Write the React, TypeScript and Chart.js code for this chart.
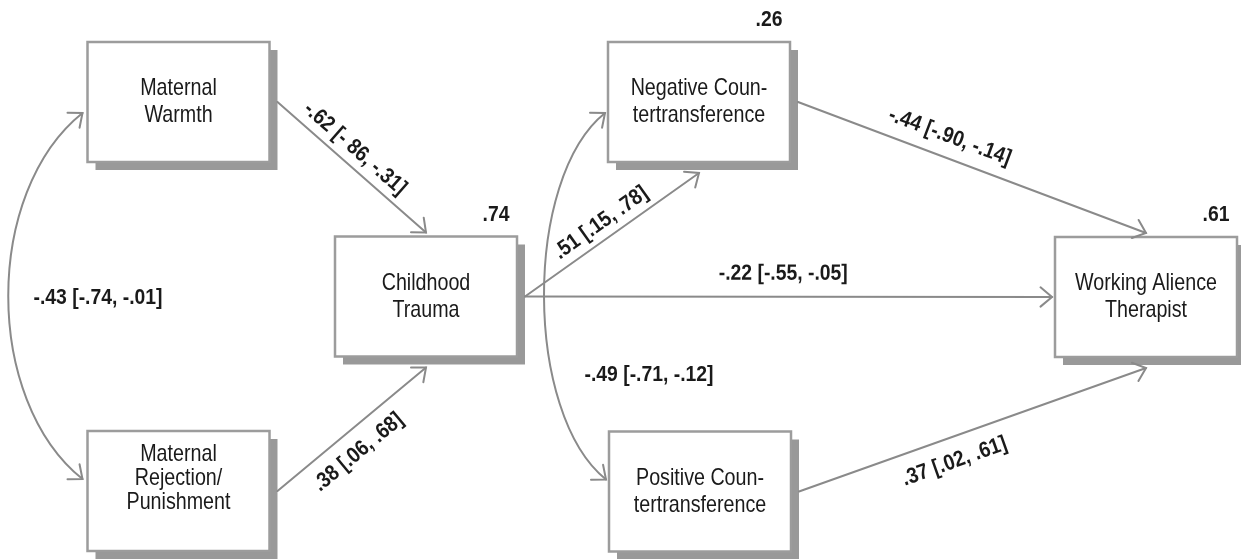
import React, { useEffect, useRef } from "react";
import { Chart, registerables } from "chart.js";

Chart.register(...registerables);

// ---------- data ----------
const nodeLines: string[][] = [
  ["Maternal", "Warmth"],
  ["Maternal", "Rejection/", "Punishment"],
  ["Childhood", "Trauma"],
  ["Negative Coun-", "tertransference"],
  ["Positive Coun-", "tertransference"],
  ["Working Alience", "Therapist"],
];
const nodeX = [178.5, 178.5, 426, 699, 700, 1146];
const nodeY = [102, 491, 296.5, 102, 491.5, 297];

const r2Node = [2, 3, 5];
const r2Values = [".74", ".26", ".61"];

const pathFrom = [0, 1, 2, 2, 3, 4];
const pathTo = [2, 2, 3, 5, 5, 5];
const pathLabels = [
  "-.62 [- 86, -.31]",
  ".38 [.06, .68]",
  ".51 [.15, .78]",
  "-.22 [-.55, -.05]",
  "-.44 [-.90, -.14]",
  ".37 [.02, .61]",
];

const covFrom = [0, 3];
const covTo = [1, 4];
const covLabels = ["-.43 [-.74, -.01]", "-.49 [-.71, -.12]"];

// ---------- layout / style ----------
const BOX_W = 182;
const BOX_H = 120;
const SHADOW = 8;
const pathToSide = ["top", "bottom", "bottom", "left", "top", "bottom"];
const pathLabelT = [0.45, 0.45, 0.49, 0.49, 0.415, 0.425];
const pathLabelOff = [16, -22, 16, 23, 21, -24];
const covBulge = [99, 82];
const covLabelX = [98, 649];
const covLabelY = [298, 375];
const textShift = [0, -13, 0, 0, 0, 0];
const LINE_COLOR = "#8a8a8a";
const BOX_BORDER = "#9c9c9c";
const SHADOW_COLOR = "#999999";
const TEXT_COLOR = "#1a1a1a";
const BOX_FONT = '24px "Liberation Sans", Arial, sans-serif';
const LABEL_FONT = 'bold 22px "Liberation Sans", Arial, sans-serif';
const BOX_SQUEEZE = 0.82;
const LABEL_SQUEEZE = 0.88;

function arrowHead(ctx: CanvasRenderingContext2D, x: number, y: number, ang: number) {
  const L = 15;
  const h = (40 * Math.PI) / 180;
  ctx.beginPath();
  ctx.moveTo(x - L * Math.cos(ang - h), y - L * Math.sin(ang - h));
  ctx.lineTo(x, y);
  ctx.lineTo(x - L * Math.cos(ang + h), y - L * Math.sin(ang + h));
  ctx.stroke();
}

function squeezedText(
  ctx: CanvasRenderingContext2D,
  s: string,
  x: number,
  y: number,
  font: string,
  squeeze: number,
  ang = 0
) {
  ctx.save();
  ctx.translate(x, y);
  ctx.rotate(ang);
  ctx.scale(squeeze, 1);
  ctx.fillStyle = TEXT_COLOR;
  ctx.font = font;
  ctx.textAlign = "center";
  ctx.textBaseline = "middle";
  ctx.fillText(s, 0, 0);
  ctx.restore();
}

const diagramPlugin = {
  id: "pathDiagram",
  afterDatasetsDraw(chart: any) {
    const ctx: CanvasRenderingContext2D = chart.ctx;
    const xs = chart.scales.x;
    const ys = chart.scales.y;
    const px = (v: number) => xs.getPixelForValue(v);
    const py = (v: number) => ys.getPixelForValue(v);
    const box = (i: number) => {
      const l = px(nodeX[i] - BOX_W / 2);
      const r = px(nodeX[i] + BOX_W / 2);
      const t = py(nodeY[i] - BOX_H / 2);
      const b = py(nodeY[i] + BOX_H / 2);
      return { l, r, t, b, cx: (l + r) / 2, cy: (t + b) / 2 };
    };

    ctx.save();
    // boxes
    nodeLines.forEach((lines, i) => {
      const bb = box(i);
      ctx.fillStyle = SHADOW_COLOR;
      ctx.fillRect(bb.l + SHADOW, bb.t + SHADOW, bb.r - bb.l, bb.b - bb.t);
      ctx.fillStyle = "#ffffff";
      ctx.fillRect(bb.l, bb.t, bb.r - bb.l, bb.b - bb.t);
      ctx.strokeStyle = BOX_BORDER;
      ctx.lineWidth = 2.5;
      ctx.strokeRect(bb.l, bb.t, bb.r - bb.l, bb.b - bb.t);
      const lh = lines.length > 2 ? 24 : 27;
      lines.forEach((s, k) => {
        const yy = bb.cy + textShift[i] + (k - (lines.length - 1) / 2) * lh;
        squeezedText(ctx, s, bb.cx, yy, BOX_FONT, BOX_SQUEEZE);
      });
    });

    // straight paths
    ctx.strokeStyle = LINE_COLOR;
    ctx.lineWidth = 2;
    ctx.lineCap = "round";
    pathFrom.forEach((f, i) => {
      const a = box(f);
      const b = box(pathTo[i]);
      const x0 = a.r + SHADOW;
      const y0 = a.cy;
      let x1 = b.cx;
      let y1 = b.cy;
      const side = pathToSide[i];
      if (side === "top") y1 = b.t - 4;
      else if (side === "bottom") y1 = b.b + SHADOW + 3;
      else if (side === "left") { x1 = b.l - 3; y1 = b.cy; }
      ctx.beginPath();
      ctx.moveTo(x0, y0);
      ctx.lineTo(x1, y1);
      ctx.stroke();
      const ang = Math.atan2(y1 - y0, x1 - x0);
      arrowHead(ctx, x1, y1, ang);
      const t = pathLabelT[i];
      const mx = x0 + (x1 - x0) * t;
      const my = y0 + (y1 - y0) * t;
      const off = pathLabelOff[i];
      squeezedText(
        ctx,
        pathLabels[i],
        mx + Math.sin(ang) * off,
        my - Math.cos(ang) * off,
        LABEL_FONT,
        LABEL_SQUEEZE,
        ang
      );
    });

    // covariance curves
    covFrom.forEach((f, i) => {
      const a = box(f);
      const b = box(covTo[i]);
      const gap = i === 0 ? 5 : 3;
      const x0 = a.l - gap;
      const y0 = a.cy + 11;
      const x3 = b.l - gap;
      const y3 = b.cy - 12;
      const k = covBulge[i];
      const h = 0.8 * k;
      ctx.beginPath();
      ctx.moveTo(x0, y0);
      ctx.bezierCurveTo(x0 - k, y0 + h, x3 - k, y3 - h, x3, y3);
      ctx.stroke();
      arrowHead(ctx, x0, y0, Math.atan2(-h, k));
      arrowHead(ctx, x3, y3, Math.atan2(h, k));
      squeezedText(ctx, covLabels[i], px(covLabelX[i]), py(covLabelY[i]), LABEL_FONT, LABEL_SQUEEZE);
    });

    // R squared
    r2Node.forEach((n, i) => {
      const bb = box(n);
      squeezedText(ctx, r2Values[i], bb.r - 21, bb.t - 22, LABEL_FONT, LABEL_SQUEEZE);
    });
    ctx.restore();
  },
};

export default function App() {
  const ref = useRef<HTMLCanvasElement | null>(null);
  useEffect(() => {
    if (!ref.current) return;
    const chart = new Chart(ref.current, {
      type: "scatter",
      data: {
        datasets: [
          {
            data: nodeX.map((x, i) => ({ x, y: nodeY[i] })),
            pointRadius: 0,
            showLine: false,
          },
        ],
      },
      options: {
        responsive: false,
        animation: false,
        layout: { padding: 0 },
        plugins: { legend: { display: false }, tooltip: { enabled: false } },
        scales: {
          x: { type: "linear", min: 0, max: 1241, display: false },
          y: { type: "linear", min: 0, max: 559, reverse: true, display: false },
        },
      },
      plugins: [diagramPlugin],
    });
    return () => chart.destroy();
  }, []);
  return (
    <div style={{ position: "fixed", left: 0, top: 0, width: 1241, height: 559, background: "#fff" }}>
      <canvas ref={ref} width={1241} height={559} />
    </div>
  );
}
